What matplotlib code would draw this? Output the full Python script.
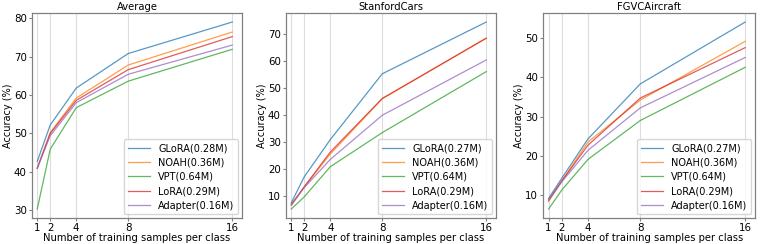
import numpy as np
import matplotlib.pyplot as plt

# numero de amostras por classe
shots = [1, 2, 4, 8, 16]

titles = ['Average', 'StanfordCars', 'FGVCAircraft']

# rotulos da legenda (parametros)
labels = [
    ['GLoRA(0.28M)', 'NOAH(0.36M)', 'VPT(0.64M)', 'LoRA(0.29M)', 'Adapter(0.16M)'],
    ['GLoRA(0.27M)', 'NOAH(0.36M)', 'VPT(0.64M)', 'LoRA(0.29M)', 'Adapter(0.16M)'],
    ['GLoRA(0.27M)', 'NOAH(0.36M)', 'VPT(0.64M)', 'LoRA(0.29M)', 'Adapter(0.16M)'],
]

# Average
avg_glora = [42.7, 52.2, 61.8, 70.8, 79.0]
avg_noah = [41.0, 50.2, 59.2, 67.8, 76.4]
avg_vpt = [30.3, 45.9, 56.7, 63.6, 71.9]
avg_lora = [40.9, 50.0, 58.6, 66.6, 75.2]
avg_adapter = [40.9, 49.4, 58.0, 65.4, 73.0]

# StanfordCars
cars_glora = [7.6, 17.2, 30.9, 55.2, 74.3]
cars_noah = [6.6, 13.5, 25.6, 46.0, 68.4]
cars_vpt = [5.3, 9.8, 20.9, 33.5, 56.0]
cars_lora = [7.0, 13.5, 26.3, 46.1, 68.3]
cars_adapter = [6.8, 13.2, 23.6, 39.9, 60.3]

# FGVCAircraft
air_glora = [9.2, 14.3, 24.3, 38.3, 54.0]
air_noah = [8.4, 13.6, 23.5, 34.2, 49.1]
air_vpt = [6.5, 11.3, 19.1, 29.0, 42.5]
air_lora = [8.8, 13.6, 22.7, 34.7, 47.5]
air_adapter = [8.7, 13.4, 21.4, 32.2, 45.0]

dados = [
    [avg_glora, avg_noah, avg_vpt, avg_lora, avg_adapter],
    [cars_glora, cars_noah, cars_vpt, cars_lora, cars_adapter],
    [air_glora, air_noah, air_vpt, air_lora, air_adapter],
]

cores = ['#1f77b4', '#ff7f0e', '#2ca02c', '#d62728', '#9467bd']

fig = plt.figure(figsize=(7.61, 2.44), dpi=100)
posicoes = [
    [0.0416, 0.105, 0.2767, 0.843],
    [0.3754, 0.105, 0.2767, 0.843],
    [0.7135, 0.105, 0.2790, 0.843],
]

for i in range(3):
    ax = fig.add_axes(posicoes[i])
    for serie, lab, cor in zip(dados[i], labels[i], cores):
        ax.plot(shots, serie, color=cor, lw=0.9, alpha=0.75, label=lab)
    ax.set_xticks(shots)
    ax.set_xlim(0.57, 16.77)
    ax.grid(axis='x', color='#dddddd', lw=0.8)
    ax.set_axisbelow(True)
    for s in ax.spines.values():
        s.set_color('#808080')
        s.set_linewidth(0.9)
    ax.tick_params(labelsize=7.4, length=2.5, width=0.8, color='#808080', pad=1)
    ax.set_title(titles[i], fontsize=7.2, pad=2)
    ax.set_xlabel('Number of training samples per class', fontsize=7.2, labelpad=0)
    ax.set_ylabel('Accuracy (%)', fontsize=7, labelpad=1)
    ax.legend(loc='lower right', fontsize=7, handlelength=2.3, labelspacing=0.45,
              borderaxespad=0.4, framealpha=0.8)

plt.savefig('out.png', dpi=100)
plt.close()
